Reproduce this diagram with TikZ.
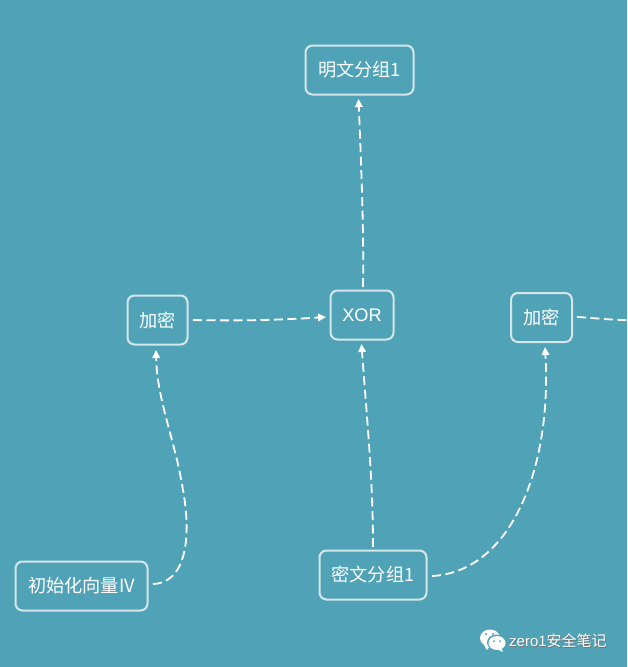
\documentclass[tikz,border=0pt]{standalone}
\usepackage{fontspec}
\setmainfont{Liberation Sans}
\newfontfamily\cjk{Noto Sans CJK SC}
\usetikzlibrary{arrows.meta}
\definecolor{bgc}{HTML}{50A3B6}
\definecolor{edgec}{HTML}{D5E6EB}
\tikzset{
  box/.style={draw=edgec,line width=2pt,rounded corners=7pt,inner sep=0pt,text=white,font=\cjk\fontsize{18.2}{20}\selectfont,anchor=center},
  link/.style={draw=white,line width=1.8pt,dash pattern=on 9pt off 4.5pt,-{Triangle[length=8pt,width=7.5pt,fill=white]}},
  plainlink/.style={draw=white,line width=1.8pt,dash pattern=on 9pt off 4.5pt},
}
\begin{document}
\begin{tikzpicture}[x=1pt,y=-1pt]
\useasboundingbox (0,0) rectangle (627,667);
\fill[bgc] (0,0) rectangle (627,667);
\node[box,minimum width=108pt,minimum height=49pt] (p1) at (359.5,70) {明文分组1};
\node[box,minimum width=60pt,minimum height=49pt] (e1) at (157.5,320) {加密};
\node[box,minimum width=63pt,minimum height=49pt] (x) at (362,315) {\fontspec{Liberation Sans}XOR};
\node[box,minimum width=61pt,minimum height=49pt] (e2) at (541.5,317.5) {加密};
\node[box,minimum width=132pt,minimum height=49pt] (iv) at (81.5,586) {初始化向量IV};
\node[box,minimum width=107pt,minimum height=49pt] (c1) at (373,575) {密文分组1};
\coordinate (xt) at (363,287);
\coordinate (pb) at (358.5,99);
\coordinate (e1r) at (193,320);
\coordinate (xl) at (326,317);
\coordinate (ivr) at (153,584);
\coordinate (e1b) at (156,350);
\coordinate (ct) at (373,547);
\coordinate (xb) at (361.5,344);
\coordinate (cr) at (432,576);
\coordinate (e2b) at (545,347);
\coordinate (e2r) at (577,317);
\coordinate (off) at (627,320);
\draw[link] (xt) .. controls (364,230) and (361,160) .. (pb);
\draw[link] (e1r) .. controls (240,321) and (280,320) .. (xl);
\draw[link] (ivr) .. controls (185,583) and (192,540) .. (183,490) .. controls (175,440) and (157,400) .. (e1b);
\draw[link] (ct) .. controls (373,480) and (367,420) .. (xb);
\draw[link] (cr) .. controls (510,572) and (552,470) .. (e2b);
\draw[plainlink] (e2r) .. controls (595,318) and (610,320) .. (off);
% watermark
\fill[white] (490,638) ellipse [x radius=10pt,y radius=8.5pt];
\fill[white] (484,645) -- (487,650) -- (490,646) -- cycle;
\fill[bgc] (496.5,642.5) ellipse [x radius=9.5pt,y radius=8pt];
\fill[white] (497,643) ellipse [x radius=8.5pt,y radius=7pt];
\fill[white] (501,648) -- (503,652) -- (497,649) -- cycle;
\fill[bgc] (486,634) circle (1.1pt) (493,634) circle (1.1pt) (494,641) circle (1pt) (500,641) circle (1pt);
\node[font=\cjk\fontsize{15}{16}\selectfont,text=black!55,anchor=west,inner sep=0pt] (wms) at (509.7,641.5) {\fontspec{Liberation Sans}zero1\cjk 安全笔记};
\node[font=\cjk\fontsize{15}{16}\selectfont,text=white,anchor=west,inner sep=0pt] (wm) at (509,640.5) {\fontspec{Liberation Sans}zero1\cjk 安全笔记};
\end{tikzpicture}
\end{document}
